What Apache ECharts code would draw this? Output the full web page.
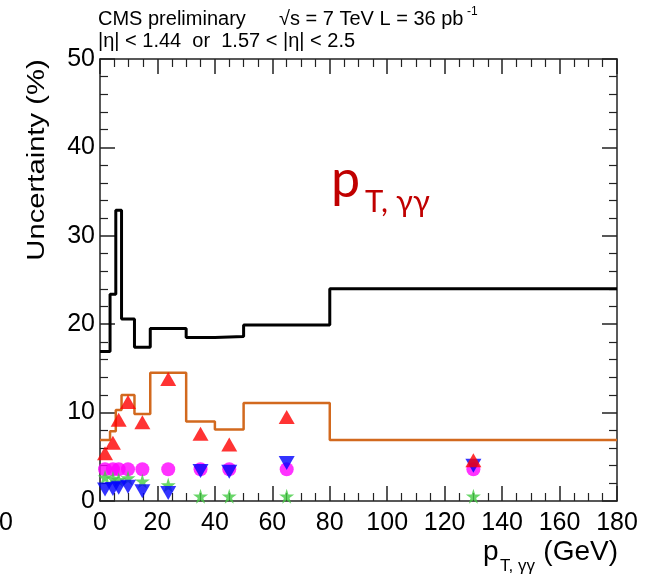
<!DOCTYPE html>
<html><head><meta charset="utf-8">
<script src="https://cdn.jsdelivr.net/npm/echarts@6/dist/echarts.min.js"></script>
<style>html,body{margin:0;padding:0;background:#fff}#c{width:657px;height:586px}</style>
</head><body><div id="c"></div>
<script>
// bin edges of pT,gg (GeV)
const binEdges = [0, 3.5, 5.5, 7.5, 12, 17.5, 30, 40, 50, 80, 180];
// step histograms (%)
const totalUnc  = [16.9, 23.4, 32.9, 20.6, 17.4, 19.5, 18.5, 18.6, 19.9, 24.0];
const orangeUnc = [6.9, 7.9, 10.3, 12.0, 9.85, 14.5, 9.0, 8.1, 11.1, 6.9];
// marker positions and values (%)
const markerX   = [1.75, 4.5, 6.5, 9.75, 14.75, 23.75, 35, 45, 65, 130];
const redUp     = [5.4, 6.6, 9.2, 11.2, 8.9, 13.8, 7.6, 6.4, 9.5, 4.6];
const magentaDot= [3.6, 3.6, 3.6, 3.6, 3.6, 3.6, 3.6, 3.6, 3.6, 3.6];
const greenStar = [2.7, 2.55, 2.4, 2.6, 2.25, 1.8, 0.55, 0.55, 0.55, 0.55];
const blueDown  = [1.3, 1.35, 1.5, 1.6, 1.1, 0.9, 3.4, 3.3, 4.3, 4.0];
// axes
const xMin = 0, xMax = 180, xStep = 20;
const yMin = 0, yMax = 50, yStep = 10;

function stepData(vals) {
  const out = [];
  vals.forEach((v, i) => { out.push([binEdges[i], v]); out.push([binEdges[i + 1], v]); });
  return out;
}
function pts(vals) { return markerX.map((x, i) => [x, vals[i]]); }

const FONT = '"Liberation Sans", Arial, sans-serif';
const axCol = '#222';
const starPath = 'path://M50,0 L61,35 L98,35 L68,57 L79,91 L50,70 L21,91 L32,57 L2,35 L39,35 Z';

function xAx(pos, labels) {
  return {
    type: 'value', position: pos, min: xMin, max: xMax, interval: xStep,
    axisLine: { show: true, onZero: false, lineStyle: { color: axCol, width: 1.5 } },
    axisTick: { show: true, inside: true, length: 15, lineStyle: { color: axCol, width: 1.5 } },
    minorTick: { show: true, splitNumber: 4, length: 8, lineStyle: { color: axCol, width: 1.2 } },
    splitLine: { show: false },
    axisLabel: { show: labels, margin: 10, fontSize: 25, fontFamily: FONT, color: '#000' }
  };
}
function yAx(pos, labels) {
  return {
    type: 'value', position: pos, min: yMin, max: yMax, interval: yStep,
    axisLine: { show: true, onZero: false, lineStyle: { color: axCol, width: 1.5 } },
    axisTick: { show: true, inside: true, length: 15, lineStyle: { color: axCol, width: 1.5 } },
    minorTick: { show: true, splitNumber: 5, length: 8, lineStyle: { color: axCol, width: 1.2 } },
    splitLine: { show: false },
    axisLabel: { show: labels, margin: 5, fontSize: 25, fontFamily: FONT, color: '#000' }
  };
}
function txt(x, y, text, size, opts) {
  opts = opts || {};
  return {
    type: 'text', x: x, y: y, rotation: opts.rot || 0, scaleX: opts.sx || 1, scaleY: 1, z: 100,
    style: {
      text: text, fontSize: size, fontFamily: opts.font || FONT, fill: opts.color || '#000',
      textAlign: opts.align || 'left', textVerticalAlign: 'middle',
      align: opts.align || 'left', verticalAlign: 'middle'
    }
  };
}

const chart = echarts.init(document.getElementById('c'), null, { renderer: 'canvas' });
chart.setOption({
  animation: false,
  backgroundColor: '#fff',
  grid: { left: 100, right: 40, top: 59, bottom: 85, containLabel: false },
  xAxis: [xAx('bottom', true), xAx('top', false)],
  yAxis: [yAx('left', true), yAx('right', false)],
  series: [
    { type: 'line', data: stepData(totalUnc), symbol: 'none', lineStyle: { color: '#000', width: 3 }, z: 2 },
    { type: 'line', data: stepData(orangeUnc), symbol: 'none', lineStyle: { color: '#d2691e', width: 2.5 }, z: 2 },
    { type: 'scatter', data: pts(magentaDot), symbol: 'circle', symbolSize: 14, itemStyle: { color: '#ff00ff' }, z: 3 },
    { type: 'scatter', data: pts(greenStar), symbol: starPath, symbolSize: 15, itemStyle: { color: '#44cc44' }, z: 3 },
    { type: 'scatter', data: pts(blueDown), symbol: 'triangle', symbolRotate: 180, symbolSize: [16, 14], itemStyle: { color: '#0000ff' }, z: 3 },
    { type: 'scatter', data: pts(redUp), symbol: 'triangle', symbolSize: [16, 14], itemStyle: { color: '#ff0000' }, z: 3 }
  ],
  graphic: [
    txt(98, 19, 'CMS preliminary', 20),
    txt(279, 19, '\u221As = 7 TeV L = 36 pb', 20),
    txt(467, 12, '-1', 12),
    txt(98, 41, '|\u03B7| < 1.44  or  1.57 < |\u03B7| < 2.5', 20),
    txt(38, 160, 'Uncertainty (%)', 23, { rot: Math.PI / 2, align: 'center', sx: 1.27 }),
    txt(483, 552, 'p', 28),
    txt(500, 566, 'T, \u03B3\u03B3', 17),
    txt(618, 552, '(GeV)', 28, { align: 'right' }),
    txt(13, 523, '0', 25, { align: 'right' }),
    txt(331, 180, 'p', 52, { color: '#c00000', font: 'Lato, "Open Sans", sans-serif' }),
    txt(365, 202, 'T, \u03B3\u03B3', 31, { color: '#c00000', font: 'Lato, "Open Sans", sans-serif' })
  ]
});
</script>
</body></html>
